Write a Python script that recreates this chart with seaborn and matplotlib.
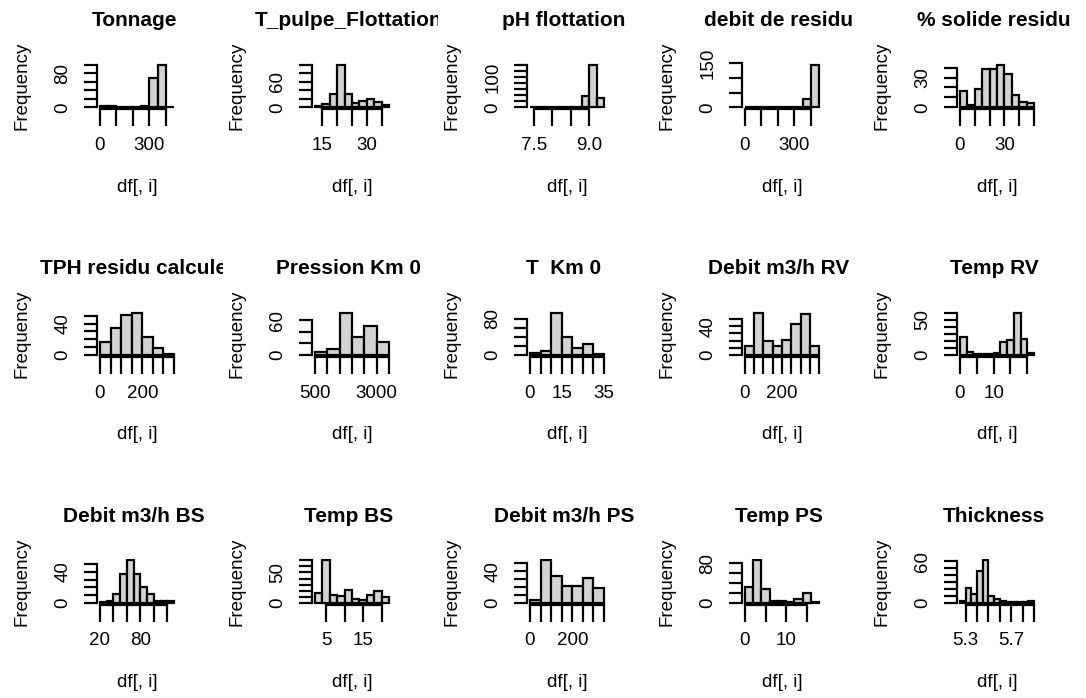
import numpy as np
import pandas as pd
import matplotlib.pyplot as plt
from matplotlib.transforms import Bbox, TransformedBbox
import seaborn as sns

# one histogram per column of df (R style hist grid, 3 x 5)
titles = ["Tonnage", "T_pulpe_Flottation", "pH flottation", "debit de residu",
          "% solide residu", "TPH residu calcule", "Pression Km 0", "T  Km 0",
          "Debit m3/h RV", "Temp RV", "Debit m3/h BS", "Temp BS",
          "Debit m3/h PS", "Temp PS", "Thickness"]

edges = [
    [0, 50, 100, 150, 200, 250, 300, 350, 400, 450],
    [12.5, 15, 17.5, 20, 22.5, 25, 27.5, 30, 32.5, 35, 37.5],
    [7.4, 7.6, 7.8, 8.0, 8.2, 8.4, 8.6, 8.8, 9.0, 9.2, 9.4],
    [0, 50, 100, 150, 200, 250, 300, 350, 400, 450],
    [0, 5, 10, 15, 20, 25, 30, 35, 40, 45, 50],
    [0, 50, 100, 150, 200, 250, 300, 350],
    [500, 1000, 1500, 2000, 2500, 3000, 3500],
    [0, 5, 10, 15, 20, 25, 30, 35],
    [0, 50, 100, 150, 200, 250, 300, 350, 400],
    [0, 2, 4, 6, 8, 10, 12, 14, 16, 18, 20, 22],
    [20, 30, 40, 50, 60, 70, 80, 90, 100, 110, 120, 130],
    [2, 4, 6, 8, 10, 12, 14, 16, 18, 20, 22],
    [0, 50, 100, 150, 200, 250, 300, 350],
    [0, 2, 4, 6, 8, 10, 12, 14, 16, 18],
    [5.25, 5.30, 5.35, 5.40, 5.45, 5.50, 5.55, 5.60, 5.65, 5.70, 5.75, 5.80, 5.85, 5.90],
]

counts = [
    [2, 3, 1, 0, 1, 3, 69, 100, 1],
    [2, 7, 32, 100, 32, 10, 14, 20, 12, 5],
    [1, 1, 2, 2, 1, 1, 1, 37, 140, 29],
    [2, 2, 1, 1, 2, 1, 1, 28, 145],
    [16, 2, 18, 39, 39, 43, 34, 12, 5, 4],
    [16, 34, 51, 54, 23, 9, 2],
    [6, 10, 73, 31, 50, 23],
    [4, 9, 94, 39, 16, 24, 2],
    [12, 59, 19, 13, 21, 43, 57, 12],
    [25, 5, 1, 1, 2, 3, 19, 21, 60, 23, 3],
    [1, 3, 11, 37, 55, 37, 21, 11, 3, 3, 2],
    [16, 70, 13, 12, 21, 7, 5, 13, 19, 9],
    [4, 54, 34, 21, 21, 31, 19],
    [33, 86, 28, 3, 4, 1, 7, 20, 1],
    [3, 22, 13, 46, 61, 10, 6, 2, 1, 1, 1, 1, 2],
]

x_ticks = [
    [0, 100, 200, 300, 400], [15, 20, 25, 30, 35], [7.5, 8.0, 8.5, 9.0],
    [0, 100, 200, 300, 400], [0, 10, 20, 30, 40, 50],
    [0, 50, 100, 150, 200, 250, 300, 350], [500, 1000, 1500, 2000, 2500, 3000, 3500],
    [0, 5, 10, 15, 20, 25, 30, 35], [0, 50, 100, 150, 200, 250, 300, 350, 400],
    [0, 5, 10, 15, 20], [20, 40, 60, 80, 100, 120], [5, 10, 15, 20],
    [0, 50, 100, 150, 200, 250, 300, 350], [0, 5, 10, 15],
    [5.3, 5.4, 5.5, 5.6, 5.7, 5.8, 5.9],
]
x_labels = [
    ["0", "", "", "300", ""], ["15", "", "", "30", ""], ["7.5", "", "", "9.0"],
    ["0", "", "", "300", ""], ["0", "", "", "30", "", ""],
    ["0", "", "", "", "200", "", "", ""], ["500", "", "", "", "", "3000", ""],
    ["0", "", "", "15", "", "", "", "35"], ["0", "", "", "", "200", "", "", "", ""],
    ["0", "", "10", "", ""], ["20", "", "", "80", "", ""], ["5", "", "15", ""],
    ["0", "", "", "", "200", "", "", ""], ["0", "", "10", ""],
    ["5.3", "", "", "", "5.7", "", ""],
]

y_ticks = [
    [0, 20, 40, 60, 80, 100], [0, 20, 40, 60, 80, 100],
    [0, 20, 40, 60, 80, 100, 120, 140], [0, 50, 100, 150], [0, 10, 20, 30, 40],
    [0, 10, 20, 30, 40, 50], [0, 20, 40, 60], [0, 20, 40, 60, 80],
    [0, 10, 20, 30, 40, 50], [0, 10, 20, 30, 40, 50, 60],
    [0, 10, 20, 30, 40, 50], [0, 10, 20, 30, 40, 50, 60, 70],
    [0, 10, 20, 30, 40, 50], [0, 20, 40, 60, 80], [0, 10, 20, 30, 40, 50, 60],
]
y_labels = [
    ["0", "", "", "", "80", ""], ["0", "", "", "60", "", ""],
    ["0", "", "", "", "", "100", "", ""], ["0", "", "", "150"], ["0", "", "", "30", ""],
    ["0", "", "", "", "40", ""], ["0", "", "", "60"], ["0", "", "", "", "80"],
    ["0", "", "", "", "40", ""], ["0", "", "", "", "", "50", ""],
    ["0", "", "", "", "40", ""], ["0", "", "", "", "", "50", "", ""],
    ["0", "", "", "", "40", ""], ["0", "", "", "", "80"], ["0", "", "", "", "", "", "60"],
]

sns.set_style("ticks")
plt.rcParams["font.family"] = ["Liberation Sans", "DejaVu Sans"]
plt.rcParams.update({"text.color": "black", "axes.edgecolor": "black",
                     "xtick.color": "black", "ytick.color": "black"})

W, H = 1086, 698
fig = plt.figure(figsize=(W / 100, H / 100), dpi=100)

for i, title in enumerate(titles):
    r, c = divmod(i, 5)
    left = 97 + 215 * c
    bottom = 109 + 247.8 * r
    ax = fig.add_axes([left / W, 1 - bottom / H, 80 / W, 46 / H])

    e = edges[i]
    n = counts[i]
    d = pd.DataFrame({"mid": [(a + b) / 2 for a, b in zip(e[:-1], e[1:])], "n": n})
    sns.histplot(data=d, x="mid", weights="n", bins=e, ax=ax,
                 color="#d3d3d3", edgecolor="black", linewidth=1.6, alpha=1)

    span = e[-1] - e[0]
    ax.set_xlim(e[0] - 0.04 * span, e[-1] + 0.04 * span)
    ax.set_ylim(-0.04 * max(n), 1.04 * max(n))
    ax.set_xlabel("")
    ax.set_ylabel("")

    ax.set_xticks(x_ticks[i], x_labels[i])
    ax.set_yticks(y_ticks[i], y_labels[i], rotation=90, va="center")
    ax.tick_params(axis="x", length=12, width=1.6, pad=8, labelsize=13.5,
                   colors="black")
    ax.tick_params(axis="y", length=9.5, width=1.6, pad=9, labelsize=13.5,
                   colors="black")

    sns.despine(ax=ax)
    ax.spines["left"].set_bounds(y_ticks[i][0], y_ticks[i][-1])
    ax.spines["bottom"].set_bounds(x_ticks[i][0], x_ticks[i][-1])
    for s in ("left", "bottom"):
        ax.spines[s].set_linewidth(1.6)
        ax.spines[s].set_color("black")

    fig.text(22 / W + 215 * c / W, 1 - (bottom - 23) / H, "Frequency",
             rotation=90, ha="center", va="center", fontsize=13.5)
    fig.text((left + 40) / W, 1 - (187 + 247.8 * r) / H, "df[, i]",
             ha="center", va="center", fontsize=13.5)

    # R clips the main title at the figure cell border
    t = fig.text((left + 37) / W, 1 - (21 + 247.8 * r) / H, title,
                 ha="center", va="center", fontsize=15, fontweight="bold")
    cell = Bbox.from_extents((left - 90) / W, 0, (left + 126) / W, 1)
    t.set_clip_box(TransformedBbox(cell, fig.transFigure))
    t.set_clip_on(True)

fig.savefig("out.png", dpi=100)
